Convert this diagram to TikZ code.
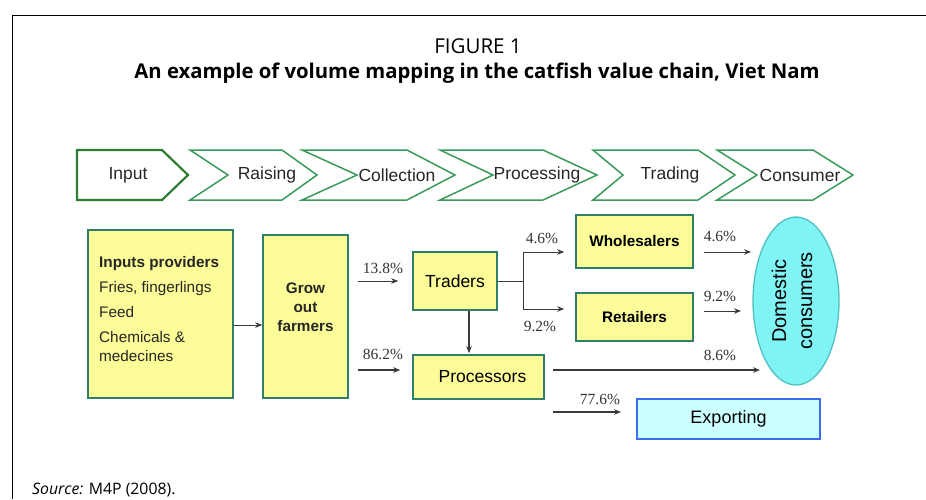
\documentclass[tikz,border=0pt]{standalone}
\usepackage{fontspec}
\setmainfont{Liberation Sans}
\newfontfamily\pctfont{Liberation Serif}
\newfontfamily\capfont{Open Sans}
\usetikzlibrary{arrows.meta,shapes.geometric}
\definecolor{chevgreen}{HTML}{3A9A5C}
\definecolor{inputgreen}{HTML}{2E7D32}
\definecolor{boxborder}{HTML}{2F7F6A}
\definecolor{boxfill}{HTML}{FCFC98}
\definecolor{ellfill}{HTML}{80F4F4}
\definecolor{ellborder}{HTML}{4FBFBF}
\definecolor{expfill}{HTML}{CCFFFF}
\definecolor{expborder}{HTML}{3B6BF0}
\definecolor{arrowgray}{HTML}{3A3A3A}
\begin{document}
\begin{tikzpicture}[x=1pt,y=-1pt,
  chev/.style={draw=chevgreen, line width=1.5pt, line join=miter},
  chevtext/.style={font=\fontsize{17.5}{19}\selectfont, inner sep=0pt, text=black!85},
  ybox/.style={draw=boxborder, line width=1.6pt, fill=boxfill, inner sep=0pt},
  pct/.style={font=\pctfont\fontsize{15.5}{17}\selectfont, inner sep=0pt, text=black!80},
  arr/.style={draw=arrowgray, line width=1pt, -{Stealth[length=7pt,width=5.5pt]}},
  thickarr/.style={arr, line width=1.6pt},
  plain/.style={draw=arrowgray, line width=1pt}
]
\useasboundingbox (0,0) rectangle (926,499);
% frame
\draw[line width=1pt] (926,15) -- (12,15) -- (12,499);
% titles
\node[font=\capfont\fontsize{20.5}{22}\selectfont, inner sep=0pt] (fig) at (478,46) {FIGURE 1};
\node[font=\capfont\bfseries\fontsize{20.3}{22}\selectfont, inner sep=0pt] (title) at (477,73)
  {An example of volume mapping in the catfish value chain, Viet Nam};
\node[font=\capfont\fontsize{15.8}{17}\selectfont, inner sep=0pt, anchor=west] (src) at (32,490)
  {\textit{Source:} M4P (2008).};
% chevrons
\draw[draw=inputgreen, line width=2.2pt, line join=miter] (77,150) -- (162,150) -- (188,175) -- (162,200) -- (77,200) -- cycle;
\draw[chev] (190,150) -- (282,150) -- (317,175) -- (282,200) -- (190,200) -- (228,175) -- cycle;
\draw[chev] (302,150) -- (407,150) -- (455,175) -- (407,200) -- (302,200) -- (357,175) -- cycle;
\draw[chev] (440,150) -- (543,150) -- (597,175) -- (543,200) -- (440,200) -- (493,175) -- cycle;
\draw[chev] (593,150) -- (698,150) -- (735,175) -- (698,200) -- (593,200) -- (623,175) -- cycle;
\draw[chev] (717,150) -- (813,150) -- (853,175) -- (813,200) -- (717,200) -- (757,175) -- cycle;
\node[chevtext] (tinput) at (128,175) {Input};
\node[chevtext] (traising) at (267,175) {Raising};
\node[chevtext] (tcollection) at (397,175) {Collection};
\node[chevtext] (tprocessing) at (537,175) {Processing};
\node[chevtext] (ttrading) at (670,175) {Trading};
\node[chevtext] (tconsumer) at (800,175) {Consumer};
% boxes
\node[ybox, minimum width=145pt, minimum height=168pt] (inp) at (160.5,314) {};
\node[anchor=west, align=left, inner sep=0pt, font=\fontsize{15.3}{19}\selectfont, text=black!85] (inptext) at (99,309)
  {\textbf{Inputs providers}\\[6pt]Fries, fingerlings\\[6pt]Feed\\[6pt]Chemicals \&\\medecines};
\node[ybox, minimum width=85pt, minimum height=163pt] (grow) at (305.5,316.5) {};
\node[align=center, inner sep=0pt, font=\bfseries\fontsize{15.3}{19}\selectfont, text=black!85] (growtext) at (305.5,307.5) {Grow\\out\\farmers};
\node[ybox, minimum width=84pt, minimum height=58pt, font=\fontsize{17.5}{20}\selectfont] (tr) at (455,281) {Traders};
\node[ybox, minimum width=131pt, minimum height=44pt, font=\fontsize{17.5}{20}\selectfont] (proc) at (478.5,377) {\hspace*{8pt}Processors};
\node[ybox, minimum width=117pt, minimum height=53pt, font=\bfseries\fontsize{15.3}{18}\selectfont] (wh) at (634.5,241.5) {Wholesalers};
\node[ybox, minimum width=117pt, minimum height=48pt, font=\bfseries\fontsize{15.3}{18}\selectfont] (ret) at (634.5,317) {Retailers};
\node[draw=expborder, line width=1.8pt, fill=expfill, minimum width=183pt, minimum height=40pt, font=\fontsize{18}{20}\selectfont] (exp) at (728.5,419) {Exporting};
\node[ellipse, draw=ellborder, line width=1.3pt, fill=ellfill, minimum width=86pt, minimum height=168pt, inner sep=0pt] (dom) at (796,301) {};
\node[rotate=90, align=center, font=\fontsize{20}{26}\selectfont, inner sep=0pt] (domtext) at (792,301) {Domestic\\consumers};
% coordinates
\coordinate (s138) at (358,281);
\coordinate (s862) at (358,370);
\coordinate (br) at (523,281);
\coordinate (brtop) at (523,252);
\coordinate (brbot) at (523,309);
\coordinate (swh) at (704,252);
\coordinate (ewh) at (751,252);
\coordinate (sret) at (704,311);
\coordinate (eret) at (741,311);
\coordinate (sproc) at (553,370);
\coordinate (eproc) at (760,370);
\coordinate (sexp) at (553,412);
% arrows
\draw[arr] ([yshift=-11pt]inp.east) -- ([yshift=-8.5pt]grow.west);
\draw[arr, line width=0.8pt, shorten >=14pt] (s138) -- (tr.west);
\draw[thickarr, shorten >=12pt] (s862) -- (s862 -| proc.west);
\draw[arr, line width=1.4pt, shorten >=1pt] ([xshift=14pt]tr.south) -- ([xshift=14pt]tr.south |- proc.north);
\draw[plain] (tr.east) -- (br);
\draw[plain] (brtop) -- (brbot);
\draw[arr, shorten >=11pt] (brtop) -- (brtop -| wh.west);
\draw[arr, shorten >=11pt] (brbot) -- (brbot -| ret.west);
\draw[arr] (swh) -- (ewh);
\draw[arr] (sret) -- (eret);
\draw[thickarr] (sproc) -- (eproc);
\draw[arr, line width=1.3pt, shorten >=15pt] (sexp) -- (sexp -| exp.west);
% labels
\node[pct] (p138) at (383,268) {13.8\%};
\node[pct] (p862) at (383,354) {86.2\%};
\node[pct] (p46a) at (542,238) {4.6\%};
\node[pct] (p92a) at (540,326) {9.2\%};
\node[pct] (p46b) at (720,236) {4.6\%};
\node[pct] (p92b) at (720,296) {9.2\%};
\node[pct] (p86) at (720,355) {8.6\%};
\node[pct] (p776) at (600,399) {77.6\%};
\end{tikzpicture}
\end{document}
